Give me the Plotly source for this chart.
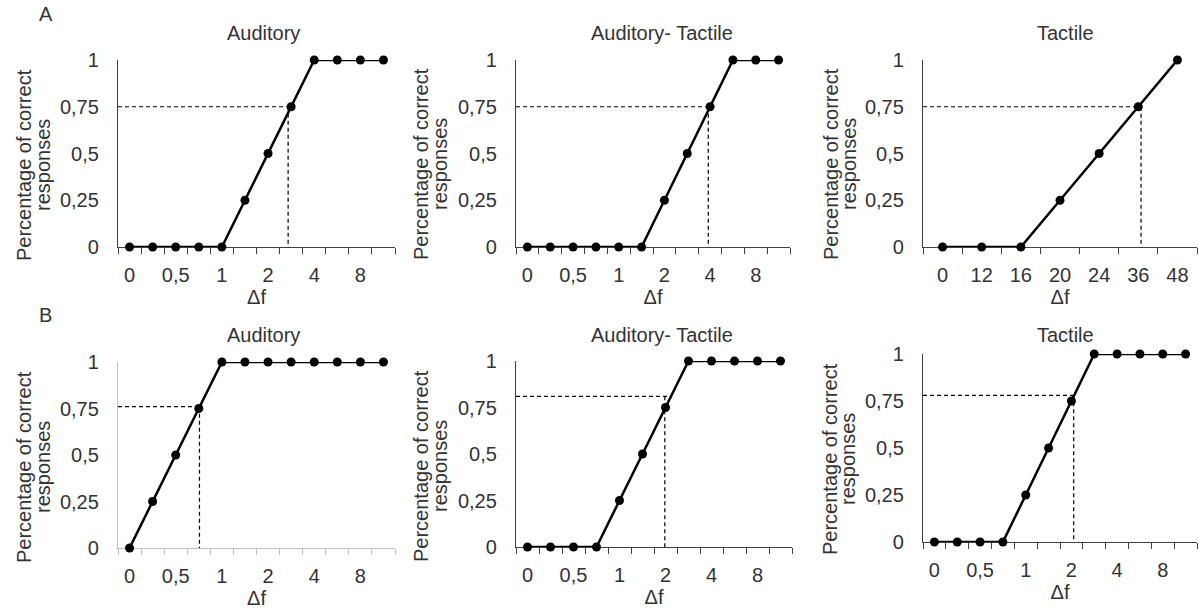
import plotly.graph_objects as go

# ---------------- data ----------------
# Δf levels (categories) and proportion correct for each panel
df12 = [0, 0.25, 0.5, 0.75, 1, 1.5, 2, 3, 4, 6, 8, 12]
labels12 = ["0", "", "0,5", "", "1", "", "2", "", "4", "", "8", ""]
df_tac = [0, 12, 16, 20, 24, 36, 48]
labels_tac = ["0", "12", "16", "20", "24", "36", "48"]

a_aud_p = [0, 0, 0, 0, 0, 0.25, 0.5, 0.75, 1, 1, 1, 1]
a_at_p = [0, 0, 0, 0, 0, 0, 0.25, 0.5, 0.75, 1, 1, 1]
a_tac_p = [0, 0, 0, 0.25, 0.5, 0.75, 1]
b_aud_p = [0, 0.25, 0.5, 0.75, 1, 1, 1, 1, 1, 1, 1, 1]
b_at_p = [0, 0, 0, 0, 0.25, 0.5, 0.75, 1, 1, 1, 1, 1]
b_tac_p = [0, 0, 0, 0, 0.25, 0.5, 0.75, 1, 1, 1, 1, 1]

titles = ["Auditory", "Auditory- Tactile", "Tactile",
          "Auditory", "Auditory- Tactile", "Tactile"]
ytitle_lines = ["Percentage of correct", "responses"]
# threshold (category-position of vertical dashed line, end of horizontal, level)
thr_x = [6.87, 7.92, 5.07, 3.03, 5.97, 6.1]
thr_hend = [6.87, 7.92, 5.07, 3.03, 6.2, 6.1]
thr_y = [0.75, 0.75, 0.75, 0.76, 0.81, 0.78]

y_ticks = [0, 0.25, 0.5, 0.75, 1]
y_ticktext = ["0", "0,25", "0,5", "0,75", "1"]

panels = [
    (df12, labels12, a_aud_p),
    (df12, labels12, a_at_p),
    (df_tac, labels_tac, a_tac_p),
    (df12, labels12, b_aud_p),
    (df12, labels12, b_at_p),
    (df12, labels12, b_tac_p),
]

# ---------------- layout geometry (pixels) ----------------
W, H = 1199, 616
px_x = [(118, 395), (516, 790), (923, 1197), (118, 395), (516, 792), (923, 1197)]
px_y = [(60, 247), (60, 247), (60, 247), (362, 548), (361, 547), (354, 542)]
title_pos = [(263, 33), (662, 33), (1065, 33), (263, 335), (662, 335), (1065, 335)]
# x of the two y-title lines, and y centre
ytitle_x = [(24, 43), (421, 440), (831, 849), (24, 43), (421, 440), (830, 848)]
ytitle_y = [165, 164, 164, 467, 466, 459]
axis_colors = ["#404040", "#404040", "#404040", "#bfbfbf", "#404040", "#404040"]

FONT = "Liberation Sans, Arial, sans-serif"
TXT = "#333333"
FS = 20

fig = go.Figure()
layout = dict(
    template="none",
    width=W, height=H, margin=dict(l=0, r=0, t=0, b=0, pad=0),
    paper_bgcolor="white", plot_bgcolor="white", showlegend=False,
    font=dict(family=FONT, size=FS, color=TXT),
)
annotations = []

for i, (dfv, labs, p) in enumerate(panels):
    k = "" if i == 0 else str(i + 1)
    n = len(dfv)
    xs = list(range(n))
    # dashed threshold guide
    fig.add_trace(go.Scatter(
        x=[-0.5, thr_hend[i], None, thr_x[i], thr_x[i]],
        y=[thr_y[i], thr_y[i], None, thr_y[i], 0],
        mode="lines", line=dict(color="black", width=1.2, dash="4px,3px"),
        xaxis="x" + k, yaxis="y" + k, hoverinfo="skip", cliponaxis=False,
    ))
    # psychometric data
    fig.add_trace(go.Scatter(
        x=xs, y=p, customdata=dfv, mode="lines+markers",
        line=dict(color="black", width=2.5),
        marker=dict(color="black", size=9),
        xaxis="x" + k, yaxis="y" + k, cliponaxis=False,
        hovertemplate="Δf=%{customdata}<br>%{y}<extra></extra>",
    ))
    x0, x1 = px_x[i]
    yt, yb = px_y[i]
    ac = axis_colors[i]
    tv = [j for j, s in enumerate(labs) if s]
    tt = [s for s in labs if s]
    layout["xaxis" + k] = dict(
        domain=[x0 / W, x1 / W], anchor="y" + k, range=[-0.5, n - 0.5],
        automargin=False, layer="below traces",
        showline=True, linecolor=ac, linewidth=1.3, showgrid=False, zeroline=False,
        tickmode="array", tickvals=tv, ticktext=tt, ticks="",
        ticklabelstandoff=10, tickfont=dict(size=FS, color=TXT),
        minor=dict(tickmode="array", tickvals=[j - 0.5 for j in range(n + 1)],
                   ticks="outside", ticklen=6, tickwidth=1.3, tickcolor=ac,
                   showgrid=False),
        title=dict(text="Δf", standoff=4, font=dict(size=FS, color=TXT)),
        fixedrange=True,
    )
    layout["yaxis" + k] = dict(
        domain=[1 - yb / H, 1 - yt / H], anchor="x" + k, range=[0, 1],
        automargin=False, layer="below traces",
        showline=True, linecolor=ac, linewidth=1.3, showgrid=False, zeroline=False,
        tickmode="array", tickvals=y_ticks, ticktext=y_ticktext, ticks="",
        ticklabelstandoff=14, tickfont=dict(size=FS, color=TXT),
        fixedrange=True,
    )
    tx, ty = title_pos[i]
    annotations.append(dict(text=titles[i], x=tx / W, y=1 - ty / H, xref="paper",
                            yref="paper", showarrow=False, xanchor="center",
                            yanchor="middle", font=dict(size=FS, color=TXT)))
    for line_text, lx in zip(ytitle_lines, ytitle_x[i]):
        annotations.append(dict(text=line_text,
                                x=lx / W, y=1 - ytitle_y[i] / H,
                                xref="paper", yref="paper",
                                showarrow=False, textangle=-90, xanchor="center",
                                yanchor="middle", font=dict(size=FS, color=TXT)))

for lab, (lx, ly) in zip(["A", "B"], [(46, 14), (45, 315)]):
    annotations.append(dict(text=lab, x=lx / W, y=1 - ly / H, xref="paper",
                            yref="paper", showarrow=False, xanchor="center",
                            yanchor="middle", font=dict(size=FS, color=TXT)))

layout["annotations"] = annotations
fig.update_layout(**layout)
fig.write_html(
    "out.html",
    config={"displayModeBar": False},
    post_script="document.body.style.margin='0';document.body.style.overflow='hidden';",
)
